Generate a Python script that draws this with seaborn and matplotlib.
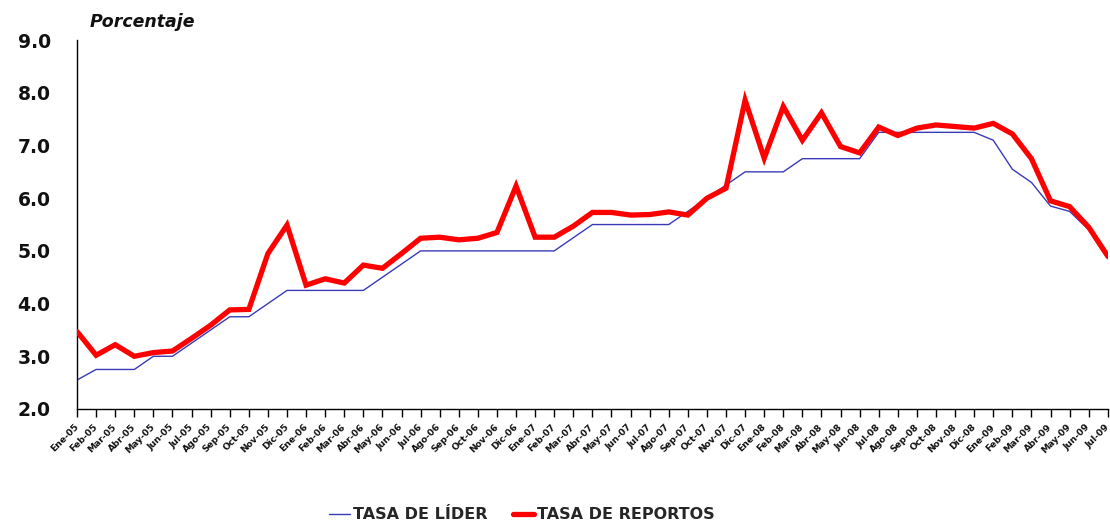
import matplotlib
matplotlib.use("Agg")
import matplotlib.pyplot as plt
import seaborn as sns
import pandas as pd

# Monthly labels, Ene-05 .. Jul-09
meses = ["Ene", "Feb", "Mar", "Abr", "May", "Jun", "Jul", "Ago", "Sep", "Oct", "Nov", "Dic"]
etiquetas = [f"{m}-{a:02d}" for a in range(5, 10) for m in meses][:55]

# Tasa de interés líder de política monetaria (%)
tasa_lider = [
    2.55, 2.75, 2.75, 2.75, 3.00, 3.00, 3.25, 3.50, 3.75, 3.75, 4.00, 4.25,
    4.25, 4.25, 4.25, 4.25, 4.50, 4.75, 5.00, 5.00, 5.00, 5.00, 5.00, 5.00,
    5.00, 5.00, 5.25, 5.50, 5.50, 5.50, 5.50, 5.50, 5.75, 6.00, 6.25, 6.50,
    6.50, 6.50, 6.75, 6.75, 6.75, 6.75, 7.25, 7.25, 7.25, 7.25, 7.25, 7.25,
    7.10, 6.55, 6.30, 5.85, 5.75, 5.40, 4.85,
]

# Tasa promedio de reportos (%)
tasa_reportos = [
    3.47, 3.02, 3.22, 3.00, 3.07, 3.10, 3.34, 3.59, 3.88, 3.89, 4.95, 5.49,
    4.35, 4.47, 4.39, 4.73, 4.67, 4.95, 5.24, 5.26, 5.21, 5.24, 5.35, 6.23,
    5.26, 5.26, 5.47, 5.73, 5.73, 5.68, 5.69, 5.74, 5.68, 6.00, 6.19, 7.86,
    6.76, 7.74, 7.10, 7.62, 6.98, 6.86, 7.35, 7.19, 7.33, 7.39, 7.36, 7.33,
    7.42, 7.22, 6.75, 5.95, 5.84, 5.45, 4.90,
]

df = pd.DataFrame({
    "pos": list(range(len(etiquetas))),
    "lider": tasa_lider,
    "reportos": tasa_reportos,
})

sns.set_style("white")
plt.rcParams["font.family"] = ["DejaVu Sans"]

fig = plt.figure(figsize=(11.10, 5.21), dpi=100)
ax = fig.add_axes([0.0694, 0.215, 0.9286, 0.708])

sns.lineplot(data=df, x="pos", y="lider", ax=ax, color="#3A3AB8",
             linewidth=1.0, label="TASA DE LÍDER", zorder=2)
sns.lineplot(data=df, x="pos", y="reportos", ax=ax, color="#FF0000",
             linewidth=3.8, label="TASA DE REPORTOS", zorder=3,
             solid_joinstyle="miter")

ax.set_xlim(0, len(etiquetas) - 1)
ax.set_ylim(2.0, 9.0)
ax.set_xlabel("")
ax.set_ylabel("")

ax.set_yticks([2, 3, 4, 5, 6, 7, 8, 9])
ax.set_yticklabels([f"{v:.1f}" for v in range(2, 10)],
                   fontsize=13.5, fontweight="bold", color="#111111")
ax.tick_params(axis="y", length=0, pad=19)

ax.set_xticks(df["pos"])
ax.set_xticklabels(etiquetas, rotation=45, ha="right", va="center",
                   rotation_mode="anchor",
                   fontsize=6.6, fontweight="bold", color="#111111")
ax.tick_params(axis="x", direction="out", length=6, width=1.0, color="black",
               pad=6, bottom=True)

for s in ["top", "right"]:
    ax.spines[s].set_visible(False)
for s in ["left", "bottom"]:
    ax.spines[s].set_color("black")
    ax.spines[s].set_linewidth(1.0)

ax.grid(False)

fig.text(0.081, 0.957, "Porcentaje", fontsize=12.5, fontweight="bold",
         fontstyle="italic", color="#111111", va="center", ha="left")

handles, labels = ax.get_legend_handles_labels()
ax.get_legend().remove()
fig.legend(handles, labels, loc="center", bbox_to_anchor=(0.47, 0.012),
           ncol=2, frameon=False, handlelength=1.3, handletextpad=0.2,
           columnspacing=1.6,
           prop={"weight": "bold", "size": 11.5})

fig.savefig("out.png", dpi=100)
